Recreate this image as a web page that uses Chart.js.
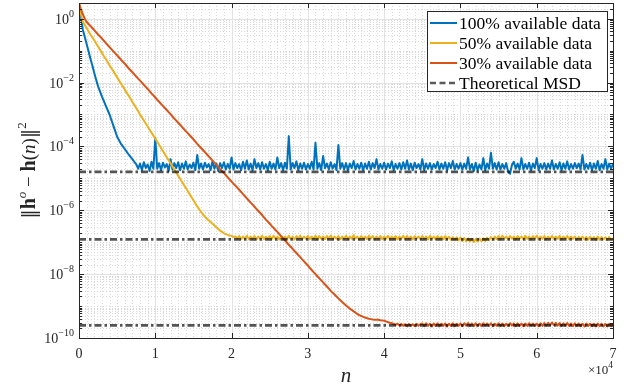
<!DOCTYPE html>
<html>
<head>
<meta charset="utf-8">
<script src="https://cdn.jsdelivr.net/npm/chart.js@4.4.0/dist/chart.umd.min.js"></script>
<style>
  html, body { margin: 0; padding: 0; background: #fff; }
  canvas { display: block; }
</style>
</head>
<body>
<canvas id="msdChart" width="628" height="387"></canvas>
<script>
// iteration index n (step 250), one row = 5000 iterations
const nValues = [
  0, 250, 500, 750, 1000, 1250, 1500, 1750, 2000, 2250, 2500, 2750, 3000, 3250, 3500, 3750, 4000, 4250, 4500, 4750,
  5000, 5250, 5500, 5750, 6000, 6250, 6500, 6750, 7000, 7250, 7500, 7750, 8000, 8250, 8500, 8750, 9000, 9250, 9500, 9750,
  10000, 10250, 10500, 10750, 11000, 11250, 11500, 11750, 12000, 12250, 12500, 12750, 13000, 13250, 13500, 13750, 14000, 14250, 14500, 14750,
  15000, 15250, 15500, 15750, 16000, 16250, 16500, 16750, 17000, 17250, 17500, 17750, 18000, 18250, 18500, 18750, 19000, 19250, 19500, 19750,
  20000, 20250, 20500, 20750, 21000, 21250, 21500, 21750, 22000, 22250, 22500, 22750, 23000, 23250, 23500, 23750, 24000, 24250, 24500, 24750,
  25000, 25250, 25500, 25750, 26000, 26250, 26500, 26750, 27000, 27250, 27500, 27750, 28000, 28250, 28500, 28750, 29000, 29250, 29500, 29750,
  30000, 30250, 30500, 30750, 31000, 31250, 31500, 31750, 32000, 32250, 32500, 32750, 33000, 33250, 33500, 33750, 34000, 34250, 34500, 34750,
  35000, 35250, 35500, 35750, 36000, 36250, 36500, 36750, 37000, 37250, 37500, 37750, 38000, 38250, 38500, 38750, 39000, 39250, 39500, 39750,
  40000, 40250, 40500, 40750, 41000, 41250, 41500, 41750, 42000, 42250, 42500, 42750, 43000, 43250, 43500, 43750, 44000, 44250, 44500, 44750,
  45000, 45250, 45500, 45750, 46000, 46250, 46500, 46750, 47000, 47250, 47500, 47750, 48000, 48250, 48500, 48750, 49000, 49250, 49500, 49750,
  50000, 50250, 50500, 50750, 51000, 51250, 51500, 51750, 52000, 52250, 52500, 52750, 53000, 53250, 53500, 53750, 54000, 54250, 54500, 54750,
  55000, 55250, 55500, 55750, 56000, 56250, 56500, 56750, 57000, 57250, 57500, 57750, 58000, 58250, 58500, 58750, 59000, 59250, 59500, 59750,
  60000, 60250, 60500, 60750, 61000, 61250, 61500, 61750, 62000, 62250, 62500, 62750, 63000, 63250, 63500, 63750, 64000, 64250, 64500, 64750,
  65000, 65250, 65500, 65750, 66000, 66250, 66500, 66750, 67000, 67250, 67500, 67750, 68000, 68250, 68500, 68750, 69000, 69250, 69500, 69750,
  70000
];

// 100% available data
const msdFull = [
  3.0, 1.2, 0.45, 0.27, 0.16, 0.095, 0.056, 0.034, 0.02, 0.0123, 7.6e-3, 5.3e-3, 3.7e-3, 2.65e-3, 1.9e-3, 1.38e-3, 1.0e-3, 6.7e-4, 4.5e-4, 3.0e-4,
  2.0e-4, 1.55e-4, 1.2e-4, 1.0e-4, 8.3e-5, 6.8e-5, 5.6e-5, 4.7e-5, 4.0e-5, 3.3e-5, 2.8e-5, 2.0e-5, 2.9e-5, 1.8e-5, 3.2e-5, 2.1e-5, 2.7e-5, 1.7e-5, 3.3e-5, 2.0e-5,
  1.85e-4, 2.0e-5, 3.0e-5, 1.8e-5, 3.1e-5, 2.2e-5, 2.8e-5, 1.7e-5, 4.0e-5, 1.9e-5, 3.0e-5, 2.1e-5, 3.2e-5, 1.8e-5, 2.9e-5, 2.0e-5, 3.4e-5, 1.9e-5, 2.7e-5, 2.1e-5,
  3.1e-5, 1.8e-5, 5.4e-5, 2.0e-5, 2.9e-5, 1.9e-5, 3.1e-5, 2.2e-5, 2.8e-5, 1.8e-5, 3.5e-5, 2.0e-5, 2.9e-5, 1.7e-5, 3.0e-5, 2.1e-5, 3.2e-5, 1.9e-5, 2.8e-5, 2.0e-5,
  4.5e-5, 1.9e-5, 3.0e-5, 2.1e-5, 2.8e-5, 1.8e-5, 3.3e-5, 2.0e-5, 3.6e-5, 1.9e-5, 2.9e-5, 1.8e-5, 4.0e-5, 2.1e-5, 3.0e-5, 1.9e-5, 3.2e-5, 2.0e-5, 2.8e-5, 1.8e-5,
  3.3e-5, 2.0e-5, 2.9e-5, 1.9e-5, 4.5e-5, 2.1e-5, 3.0e-5, 1.8e-5, 3.1e-5, 2.0e-5, 2.1e-4, 1.9e-5, 3.0e-5, 2.1e-5, 3.4e-5, 1.8e-5, 2.9e-5, 2.0e-5, 3.1e-5, 1.9e-5,
  2.8e-5, 2.0e-5, 3.3e-5, 1.9e-5, 1.3e-4, 2.0e-5, 3.0e-5, 1.8e-5, 5.0e-5, 2.1e-5, 2.9e-5, 1.9e-5, 3.2e-5, 2.0e-5, 2.8e-5, 1.8e-5, 1.1e-4, 2.0e-5, 3.0e-5, 1.9e-5,
  3.0e-5, 1.8e-5, 2.9e-5, 2.1e-5, 3.5e-5, 1.9e-5, 2.8e-5, 2.0e-5, 3.1e-5, 1.8e-5, 2.9e-5, 2.0e-5, 3.3e-5, 1.9e-5, 3.0e-5, 2.1e-5, 4.0e-5, 1.9e-5, 2.8e-5, 2.0e-5,
  3.1e-5, 1.9e-5, 2.9e-5, 2.1e-5, 3.4e-5, 1.8e-5, 2.8e-5, 2.0e-5, 3.0e-5, 1.9e-5, 3.2e-5, 2.0e-5, 3.6e-5, 1.9e-5, 2.9e-5, 1.8e-5, 3.1e-5, 2.1e-5, 2.8e-5, 1.9e-5,
  4.0e-5, 1.8e-5, 2.9e-5, 2.0e-5, 3.0e-5, 1.9e-5, 2.8e-5, 2.1e-5, 3.3e-5, 1.9e-5, 2.9e-5, 2.0e-5, 3.2e-5, 1.8e-5, 3.0e-5, 2.1e-5, 3.5e-5, 1.9e-5, 2.8e-5, 2.0e-5,
  3.0e-5, 1.9e-5, 2.9e-5, 2.0e-5, 4.5e-5, 1.9e-5, 2.8e-5, 1.7e-5, 3.1e-5, 1.8e-5, 2.7e-5, 1.9e-5, 4.3e-5, 1.8e-5, 2.9e-5, 2.0e-5, 6.3e-5, 2.0e-5, 3.0e-5, 1.9e-5,
  3.2e-5, 1.9e-5, 2.8e-5, 2.0e-5, 3.0e-5, 1.6e-5, 1.4e-5, 2.6e-5, 3.3e-5, 2.0e-5, 2.9e-5, 1.9e-5, 4.3e-5, 1.9e-5, 2.8e-5, 2.0e-5, 3.1e-5, 1.8e-5, 2.9e-5, 2.1e-5,
  4.3e-5, 1.8e-5, 2.8e-5, 2.0e-5, 3.0e-5, 1.9e-5, 2.9e-5, 2.0e-5, 3.6e-5, 1.9e-5, 2.8e-5, 2.0e-5, 3.2e-5, 1.8e-5, 2.9e-5, 2.0e-5, 3.4e-5, 1.9e-5, 2.8e-5, 2.0e-5,
  3.0e-5, 2.1e-5, 2.9e-5, 1.9e-5, 5.4e-5, 1.9e-5, 2.8e-5, 2.0e-5, 3.1e-5, 1.8e-5, 2.9e-5, 2.0e-5, 3.5e-5, 1.8e-5, 2.8e-5, 2.0e-5, 4.0e-5, 1.9e-5, 2.9e-5, 2.0e-5,
  2.9e-5
];

// 50% available data
const msdHalf = [
  3.0, 1.4, 0.8, 0.63, 0.51, 0.40, 0.32, 0.26, 0.21, 0.168, 0.135, 0.107, 0.085, 0.068, 0.055, 0.044, 0.035, 0.028, 0.023, 0.018,
  0.0145, 0.0116, 9.3e-3, 7.5e-3, 6.0e-3, 4.8e-3, 3.9e-3, 3.1e-3, 2.45e-3, 1.98e-3, 1.6e-3, 1.27e-3, 1.0e-3, 8.1e-4, 6.5e-4, 5.2e-4, 4.2e-4, 3.4e-4, 2.7e-4, 2.18e-4,
  1.75e-4, 1.4e-4, 1.12e-4, 8.9e-5, 7.1e-5, 5.7e-5, 4.6e-5, 3.7e-5, 2.95e-5, 2.35e-5, 1.86e-5, 1.5e-5, 1.2e-5, 9.7e-6, 7.8e-6, 6.2e-6, 5.0e-6, 4.0e-6, 3.2e-6, 2.55e-6,
  2.05e-6, 1.64e-6, 1.32e-6, 1.08e-6, 8.9e-7, 7.5e-7, 6.3e-7, 5.5e-7, 4.8e-7, 4.3e-7, 3.8e-7, 3.35e-7, 2.95e-7, 2.6e-7, 2.3e-7, 2.1e-7, 1.9e-7, 1.8e-7, 1.7e-7, 1.62e-7,
  1.58e-7, 1.45e-7, 1.52e-7, 1.3e-7, 1.55e-7, 1.25e-7, 1.5e-7, 1.3e-7, 1.6e-7, 1.25e-7, 1.5e-7, 1.28e-7, 1.55e-7, 1.22e-7, 1.5e-7, 1.3e-7, 1.58e-7, 1.25e-7, 1.5e-7, 1.28e-7,
  1.55e-7, 1.25e-7, 1.6e-7, 1.3e-7, 1.5e-7, 1.22e-7, 1.55e-7, 1.3e-7, 1.5e-7, 1.25e-7, 1.58e-7, 1.28e-7, 1.5e-7, 1.22e-7, 1.55e-7, 1.3e-7, 1.6e-7, 1.25e-7, 1.5e-7, 1.28e-7,
  1.55e-7, 1.25e-7, 1.5e-7, 1.3e-7, 1.6e-7, 1.22e-7, 1.55e-7, 1.28e-7, 1.5e-7, 1.25e-7, 1.55e-7, 1.3e-7, 1.62e-7, 1.25e-7, 1.5e-7, 1.28e-7, 1.55e-7, 1.22e-7, 1.5e-7, 1.3e-7,
  1.58e-7, 1.25e-7, 1.5e-7, 1.28e-7, 1.65e-7, 1.3e-7, 1.5e-7, 1.22e-7, 1.55e-7, 1.28e-7, 1.5e-7, 1.25e-7, 1.6e-7, 1.3e-7, 1.55e-7, 1.22e-7, 1.5e-7, 1.28e-7, 1.55e-7, 1.25e-7,
  1.5e-7, 1.3e-7, 1.58e-7, 1.25e-7, 1.5e-7, 1.28e-7, 1.55e-7, 1.22e-7, 1.5e-7, 1.3e-7, 1.6e-7, 1.25e-7, 1.55e-7, 1.28e-7, 1.5e-7, 1.22e-7, 1.55e-7, 1.3e-7, 1.5e-7, 1.25e-7,
  1.55e-7, 1.28e-7, 1.5e-7, 1.22e-7, 1.58e-7, 1.3e-7, 1.5e-7, 1.25e-7, 1.55e-7, 1.28e-7, 1.5e-7, 1.22e-7, 1.55e-7, 1.25e-7, 1.48e-7, 1.2e-7, 1.45e-7, 1.2e-7, 1.42e-7, 1.15e-7,
  1.4e-7, 1.1e-7, 1.35e-7, 1.08e-7, 1.3e-7, 1.05e-7, 1.28e-7, 1.02e-7, 1.25e-7, 1.05e-7, 1.3e-7, 1.08e-7, 1.32e-7, 1.1e-7, 1.38e-7, 1.15e-7, 1.45e-7, 1.2e-7, 1.5e-7, 1.25e-7,
  1.55e-7, 1.25e-7, 1.6e-7, 1.3e-7, 1.5e-7, 1.25e-7, 1.55e-7, 1.28e-7, 1.5e-7, 1.22e-7, 1.55e-7, 1.3e-7, 1.5e-7, 1.25e-7, 1.58e-7, 1.28e-7, 1.5e-7, 1.22e-7, 1.55e-7, 1.3e-7,
  1.6e-7, 1.25e-7, 1.5e-7, 1.28e-7, 1.55e-7, 1.22e-7, 1.5e-7, 1.3e-7, 1.55e-7, 1.25e-7, 1.5e-7, 1.28e-7, 1.58e-7, 1.22e-7, 1.5e-7, 1.3e-7, 1.55e-7, 1.25e-7, 1.5e-7, 1.28e-7,
  1.5e-7, 1.2e-7, 1.48e-7, 1.25e-7, 1.5e-7, 1.22e-7, 1.45e-7, 1.2e-7, 1.48e-7, 1.22e-7, 1.45e-7, 1.18e-7, 1.5e-7, 1.2e-7, 1.45e-7, 1.22e-7, 1.42e-7, 1.18e-7, 1.45e-7, 1.2e-7,
  1.3e-7
];

// 30% available data
const msdThird = [
  3.0, 2.0, 1.4, 1.0, 0.79, 0.68, 0.59, 0.51, 0.44, 0.375, 0.32, 0.28, 0.24, 0.205, 0.174, 0.15, 0.129, 0.111, 0.095, 0.082,
  0.071, 0.061, 0.052, 0.045, 0.039, 0.033, 0.028, 0.0243, 0.021, 0.018, 0.0155, 0.0133, 0.0115, 9.9e-3, 8.5e-3, 7.3e-3, 6.3e-3, 5.4e-3, 4.6e-3, 3.95e-3,
  3.4e-3, 2.9e-3, 2.5e-3, 2.15e-3, 1.86e-3, 1.6e-3, 1.38e-3, 1.19e-3, 1.02e-3, 8.7e-4, 7.4e-4, 6.4e-4, 5.5e-4, 4.75e-4, 4.1e-4, 3.5e-4, 3.0e-4, 2.6e-4, 2.24e-4, 1.93e-4,
  1.66e-4, 1.41e-4, 1.2e-4, 1.03e-4, 8.9e-5, 7.7e-5, 6.6e-5, 5.7e-5, 4.9e-5, 4.2e-5, 3.6e-5, 3.1e-5, 2.7e-5, 2.3e-5, 1.95e-5, 1.68e-5, 1.45e-5, 1.25e-5, 1.07e-5, 9.2e-6,
  7.9e-6, 6.8e-6, 5.9e-6, 5.1e-6, 4.4e-6, 3.75e-6, 3.2e-6, 2.75e-6, 2.35e-6, 2.02e-6, 1.74e-6, 1.5e-6, 1.29e-6, 1.1e-6, 9.5e-7, 8.2e-7, 7.1e-7, 6.0e-7, 5.1e-7, 4.4e-7,
  3.8e-7, 3.25e-7, 2.8e-7, 2.42e-7, 2.1e-7, 1.8e-7, 1.55e-7, 1.33e-7, 1.15e-7, 9.8e-8, 8.3e-8, 7.2e-8, 6.2e-8, 5.3e-8, 4.6e-8, 3.95e-8, 3.4e-8, 2.9e-8, 2.5e-8, 2.15e-8,
  1.86e-8, 1.58e-8, 1.35e-8, 1.16e-8, 1.0e-8, 8.6e-9, 7.4e-9, 6.4e-9, 5.5e-9, 4.75e-9, 4.1e-9, 3.5e-9, 3.0e-9, 2.6e-9, 2.3e-9, 2.0e-9, 1.74e-9, 1.53e-9, 1.35e-9, 1.19e-9,
  1.05e-9, 9.3e-10, 8.3e-10, 7.5e-10, 6.8e-10, 6.2e-10, 5.6e-10, 5.2e-10, 4.9e-10, 4.6e-10, 4.4e-10, 4.2e-10, 4.0e-10, 3.9e-10, 3.8e-10, 3.75e-10, 3.7e-10, 3.75e-10, 3.6e-10, 3.55e-10,
  3.5e-10, 3.3e-10, 3.15e-10, 3.0e-10, 2.9e-10, 2.75e-10, 2.6e-10, 2.8e-10, 2.5e-10, 2.75e-10, 2.4e-10, 2.7e-10, 2.35e-10, 2.75e-10, 2.4e-10, 2.7e-10, 2.35e-10, 2.8e-10, 2.4e-10, 2.7e-10,
  2.85e-10, 2.35e-10, 2.9e-10, 2.4e-10, 2.8e-10, 2.3e-10, 2.85e-10, 2.4e-10, 2.9e-10, 2.35e-10, 2.8e-10, 2.4e-10, 2.85e-10, 2.3e-10, 2.8e-10, 2.4e-10, 2.9e-10, 2.35e-10, 2.8e-10, 2.4e-10,
  2.85e-10, 2.35e-10, 2.9e-10, 2.45e-10, 2.95e-10, 2.4e-10, 2.85e-10, 2.35e-10, 2.9e-10, 2.4e-10, 2.8e-10, 2.35e-10, 2.9e-10, 2.45e-10, 2.85e-10, 2.4e-10, 2.9e-10, 2.35e-10, 2.8e-10, 2.4e-10,
  2.9e-10, 2.4e-10, 2.85e-10, 2.35e-10, 2.8e-10, 2.4e-10, 2.9e-10, 2.45e-10, 2.85e-10, 2.35e-10, 2.9e-10, 2.4e-10, 2.8e-10, 2.35e-10, 2.85e-10, 2.4e-10, 2.9e-10, 2.45e-10, 2.85e-10, 2.4e-10,
  2.8e-10, 2.35e-10, 2.9e-10, 2.4e-10, 2.95e-10, 2.45e-10, 3.0e-10, 2.5e-10, 3.05e-10, 2.5e-10, 3.0e-10, 2.45e-10, 2.95e-10, 2.4e-10, 2.9e-10, 2.45e-10, 2.95e-10, 2.4e-10, 2.85e-10, 2.35e-10,
  2.9e-10, 2.4e-10, 2.85e-10, 2.35e-10, 2.8e-10, 2.3e-10, 2.85e-10, 2.4e-10, 2.8e-10, 2.35e-10, 2.8e-10, 2.3e-10, 2.85e-10, 2.35e-10, 2.8e-10, 2.3e-10, 2.75e-10, 2.3e-10, 2.8e-10, 2.35e-10,
  2.7e-10
];

// theoretical steady-state MSD (100%, 50%, 30%)
const msdTheory = [1.6e-5, 1.22e-7, 2.5e-10];
const nRange = [0, 70000];

const seriesLabels = ["100% available data", "50% available data", "30% available data", "Theoretical MSD"];
const seriesColors = ["#0072BD", "#EDB120", "#D95319", "rgba(0,0,0,0.67)"];

const xTickValues = [0, 10000, 20000, 30000, 40000, 50000, 60000, 70000];
const xTickLabels = ["0", "1", "2", "3", "4", "5", "6", "7"];
const yTickExps = [0, -2, -4, -6, -8, -10];

const SERIF = "'Liberation Serif', 'DejaVu Serif', serif";
const AXIS_COLOR = "#262626";

function points(ys) {
  return nValues.map(function (n, i) { return { x: n, y: ys[i] }; });
}

// draw text pieces one after another (for superscripts etc)
function drawParts(ctx, parts, x, y, align) {
  let total = 0;
  parts.forEach(function (p) { ctx.font = p.font; p.w = ctx.measureText(p.t).width; total += p.w; });
  let cx = align === "right" ? x - total : align === "center" ? x - total / 2 : x;
  parts.forEach(function (p) {
    ctx.font = p.font;
    ctx.fillText(p.t, cx, y + (p.dy || 0));
    cx += p.w;
  });
}

const gridPlugin = {
  id: "matlabGrid",
  // grid lines: major solid, minor dotted
  beforeDatasetsDraw: function (chart) {
    const ctx = chart.ctx, a = chart.chartArea, xs = chart.scales.x, ys = chart.scales.y;
    ctx.save();
    ctx.lineWidth = 1;

    ctx.strokeStyle = "#d9d9d9";
    ctx.setLineDash([1, 2]);
    ctx.beginPath();
    for (let n = 1000; n < 70000; n += 1000) {
      if (n % 10000 === 0) continue;
      const px = Math.round(xs.getPixelForValue(n)) + 0.5;
      ctx.moveTo(px, a.top); ctx.lineTo(px, a.bottom);
    }
    for (let d = -10; d <= 0; d++) {
      for (let k = 1; k <= 9; k++) {
        if (k === 1 && d % 2 === 0) continue;
        const v = k * Math.pow(10, d);
        if (v > ys.max) continue;
        const py = Math.round(ys.getPixelForValue(v)) + 0.5;
        ctx.moveTo(a.left, py); ctx.lineTo(a.right, py);
      }
    }
    ctx.stroke();

    ctx.setLineDash([]);
    ctx.strokeStyle = "#e3e3e3";
    ctx.beginPath();
    xTickValues.forEach(function (n) {
      const px = Math.round(xs.getPixelForValue(n)) + 0.5;
      ctx.moveTo(px, a.top); ctx.lineTo(px, a.bottom);
    });
    yTickExps.forEach(function (e) {
      const py = Math.round(ys.getPixelForValue(Math.pow(10, e))) + 0.5;
      ctx.moveTo(a.left, py); ctx.lineTo(a.right, py);
    });
    ctx.stroke();
    ctx.restore();
  },

  // box, inward ticks, labels, titles
  afterDatasetsDraw: function (chart) {
    const ctx = chart.ctx, a = chart.chartArea, xs = chart.scales.x, ys = chart.scales.y;
    ctx.save();
    ctx.strokeStyle = AXIS_COLOR;
    ctx.lineWidth = 1;
    ctx.beginPath();
    xTickValues.forEach(function (n) {
      const px = Math.round(xs.getPixelForValue(n)) + 0.5;
      ctx.moveTo(px, a.bottom); ctx.lineTo(px, a.bottom - 5);
      ctx.moveTo(px, a.top); ctx.lineTo(px, a.top + 5);
    });
    for (let d = -10; d <= 0; d++) {
      for (let k = 1; k <= 9; k++) {
        const v = k * Math.pow(10, d);
        if (v > ys.max) continue;
        const len = (k === 1 && d % 2 === 0) ? 5 : 3;
        const py = Math.round(ys.getPixelForValue(v)) + 0.5;
        ctx.moveTo(a.left, py); ctx.lineTo(a.left + len, py);
        ctx.moveTo(a.right, py); ctx.lineTo(a.right - len, py);
      }
    }
    ctx.stroke();
    ctx.strokeRect(Math.round(a.left) + 0.5, Math.round(a.top) + 0.5,
      Math.round(a.right - a.left), Math.round(a.bottom - a.top));

    ctx.fillStyle = AXIS_COLOR;
    ctx.textBaseline = "alphabetic";
    ctx.textAlign = "left";
    xTickValues.forEach(function (n, i) {
      ctx.font = "14px " + SERIF;
      const w = ctx.measureText(xTickLabels[i]).width;
      ctx.fillText(xTickLabels[i], xs.getPixelForValue(n) - w / 2, a.bottom + 20);
    });
    yTickExps.forEach(function (e) {
      const py = ys.getPixelForValue(Math.pow(10, e));
      const sup = e < 0 ? "\u2212" + (-e) : String(e);
      drawParts(ctx, [
        { t: "10", font: "14px " + SERIF },
        { t: sup, font: "10px " + SERIF, dy: -7 }
      ], a.left - 5, py + 5, "right");
    });
    drawParts(ctx, [
      { t: "\u00d710", font: "13px " + SERIF },
      { t: "4", font: "9.5px " + SERIF, dy: -6 }
    ], a.right, a.bottom + 36, "right");

    ctx.font = "italic 21px " + SERIF;
    const nw = ctx.measureText("n").width;
    ctx.fillText("n", (a.left + a.right) / 2 - nw / 2, a.bottom + 44);

    ctx.translate(35, (a.top + a.bottom) / 2);
    ctx.rotate(-Math.PI / 2);
    drawParts(ctx, [
      { t: "\u2016", font: "19px 'DejaVu Serif'" },
      { t: "h", font: "bold 20px " + SERIF },
      { t: "o", font: "italic 13px " + SERIF, dy: -9 },
      { t: " \u2212 ", font: "19px " + SERIF },
      { t: "h", font: "bold 20px " + SERIF },
      { t: "(", font: "19px " + SERIF },
      { t: "n", font: "italic 19px " + SERIF },
      { t: ")", font: "19px " + SERIF },
      { t: "\u2016", font: "19px 'DejaVu Serif'" },
      { t: "2", font: "13px " + SERIF, dy: -9 }
    ], 0, 0, "center");
    ctx.restore();
  },

  // legend box, top right inside the axes
  afterDraw: function (chart) {
    const ctx = chart.ctx;
    const box = { left: 427, top: 11, right: 607, bottom: 91 };
    ctx.save();
    ctx.fillStyle = "#fff";
    ctx.fillRect(box.left, box.top, box.right - box.left, box.bottom - box.top);
    ctx.strokeStyle = AXIS_COLOR;
    ctx.lineWidth = 1;
    ctx.strokeRect(box.left + 0.5, box.top + 0.5, box.right - box.left, box.bottom - box.top);
    const rowY = [23, 43, 63, 83];
    seriesLabels.forEach(function (label, i) {
      const y = rowY[i];
      ctx.beginPath();
      ctx.strokeStyle = i === 3 ? "#5a5a5a" : seriesColors[i];
      ctx.lineWidth = i === 3 ? 2.6 : 2;
      ctx.setLineDash(i === 3 ? [6, 3.5] : []);
      ctx.moveTo(430, y); ctx.lineTo(457, y);
      ctx.stroke();
      ctx.setLineDash([]);
      ctx.fillStyle = "#000";
      ctx.font = "17.5px " + SERIF;
      ctx.textBaseline = "middle";
      ctx.fillText(label, 459, y + 1);
    });
    ctx.restore();
  }
};

const datasets = [
  { label: seriesLabels[0], data: points(msdFull), borderColor: seriesColors[0], borderWidth: 2, order: 4 },
  { label: seriesLabels[1], data: points(msdHalf), borderColor: seriesColors[1], borderWidth: 2, order: 3 },
  { label: seriesLabels[2], data: points(msdThird), borderColor: seriesColors[2], borderWidth: 2, order: 2 }
];
msdTheory.forEach(function (v) {
  datasets.push({
    label: seriesLabels[3],
    data: nRange.map(function (n) { return { x: n, y: v }; }),
    borderColor: seriesColors[3],
    borderWidth: 2.8,
    borderDash: [7, 3, 2.5, 3],
    order: 1
  });
});

const ctx = document.getElementById("msdChart").getContext("2d");
new Chart(ctx, {
  type: "line",
  data: { datasets: datasets },
  plugins: [gridPlugin],
  options: {
    responsive: false,
    animation: false,
    devicePixelRatio: 1,
    layout: { padding: { left: 79, right: 15, top: 3, bottom: 49 } },
    plugins: { legend: { display: false }, tooltip: { enabled: false } },
    elements: {
      point: { radius: 0 },
      line: { tension: 0, fill: false, borderJoinStyle: "round" }
    },
    scales: {
      x: {
        type: "linear", min: 0, max: 70000,
        ticks: { display: false }, grid: { display: false }, border: { display: false },
        afterFit: function (s) { s.height = 0; }
      },
      y: {
        type: "logarithmic", min: 1e-10, max: 3.1,
        ticks: { display: false }, grid: { display: false }, border: { display: false },
        afterFit: function (s) { s.width = 0; }
      }
    }
  }
});
</script>
</body>
</html>
